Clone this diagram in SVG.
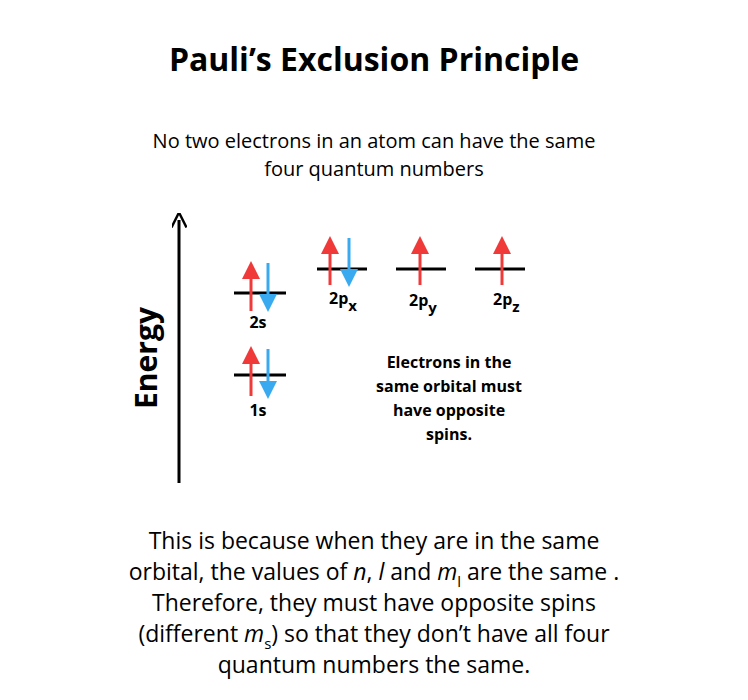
<svg xmlns="http://www.w3.org/2000/svg" width="748" height="700" viewBox="0 0 748 700">
<style>
text{font-family:"Open Sans","Liberation Sans",sans-serif;fill:#000}
.b{font-weight:bold}
.lvl{stroke:#000;stroke-width:3}
.up{stroke:#f03a3a;stroke-width:3}
.dn{stroke:#3aaaf0;stroke-width:3}
</style>
<defs>
<marker id="ru" markerWidth="6" markerHeight="6" refX="3" refY="3" orient="auto" markerUnits="strokeWidth"><path d="M0,0L6,3L0,6z" fill="#f03a3a"/></marker>
<marker id="bd" markerWidth="6" markerHeight="6" refX="3" refY="3" orient="auto" markerUnits="strokeWidth"><path d="M0,0L6,3L0,6z" fill="#3aaaf0"/></marker>
<marker id="ka" markerWidth="5" markerHeight="5" refX="2.5" refY="2.5" orient="auto" markerUnits="strokeWidth"><path d="M0,0L5,2.5L0,5" fill="none" stroke="#000" stroke-width="0.8"/></marker>
</defs>
<rect width="748" height="700" fill="#fff"/>
<text class="b" x="374" y="71" font-size="32" text-anchor="middle">Pauli’s Exclusion Principle</text>
<text x="374" y="148" font-size="20" text-anchor="middle">No two electrons in an atom can have the same</text>
<text x="374" y="176" font-size="20" text-anchor="middle">four quantum numbers</text>
<g id="axis">
<line x1="179" y1="483" x2="179" y2="220" stroke="#000" stroke-width="3" marker-end="url(#ka)"/>
<text class="b" font-size="30" transform="translate(157,358) rotate(-90)" text-anchor="middle">Energy</text>
</g>
<g id="o2s">
<line class="lvl" x1="234" y1="293" x2="286" y2="293"/>
<line class="up" x1="251" y1="311" x2="251" y2="270" marker-end="url(#ru)"/>
<line class="dn" x1="268" y1="263" x2="268" y2="303" marker-end="url(#bd)"/>
<text class="b" x="258" y="328" font-size="16" text-anchor="middle">2s</text>
</g>
<g id="o1s">
<line class="lvl" x1="234" y1="375" x2="286" y2="375"/>
<line class="up" x1="251" y1="396" x2="251" y2="355" marker-end="url(#ru)"/>
<line class="dn" x1="268" y1="349" x2="268" y2="390" marker-end="url(#bd)"/>
<text class="b" x="258" y="416" font-size="16" text-anchor="middle">1s</text>
</g>
<g id="o2px">
<line class="lvl" x1="317" y1="269" x2="367" y2="269"/>
<line class="up" x1="330" y1="285" x2="330" y2="245" marker-end="url(#ru)"/>
<line class="dn" x1="349" y1="238" x2="349" y2="278" marker-end="url(#bd)"/>
<text class="b" x="329" y="304" font-size="16">2p<tspan font-size="15" dy="7">x</tspan></text>
</g>
<g id="o2py">
<line class="lvl" x1="396" y1="269" x2="446" y2="269"/>
<line class="up" x1="420" y1="285" x2="420" y2="245" marker-end="url(#ru)"/>
<text class="b" x="409" y="306" font-size="16">2p<tspan font-size="15" dy="7">y</tspan></text>
</g>
<g id="o2pz">
<line class="lvl" x1="475" y1="269" x2="525" y2="269"/>
<line class="up" x1="502" y1="285" x2="502" y2="245" marker-end="url(#ru)"/>
<text class="b" x="493" y="305" font-size="16">2p<tspan font-size="15" dy="7">z</tspan></text>
</g>
<g id="note" font-size="16" text-anchor="middle">
<text class="b" x="449" y="368">Electrons in the</text>
<text class="b" x="449" y="392">same orbital must</text>
<text class="b" x="449" y="416">have opposite</text>
<text class="b" x="449" y="440">spins.</text>
</g>
<g font-size="23" text-anchor="middle">
<text x="374" y="549">This is because when they are in the same</text>
<text x="374" y="580">orbital, the values of <tspan font-style="italic">n</tspan>, <tspan font-style="italic">l</tspan> and <tspan font-style="italic">m</tspan><tspan font-size="15" dy="7">l</tspan><tspan dy="-7"> are the same .</tspan></text>
<text x="374" y="611">Therefore, they must have opposite spins</text>
<text x="374" y="642">(different <tspan font-style="italic">m</tspan><tspan font-size="15" dy="7">s</tspan><tspan dy="-7">) so that they don’t have all four</tspan></text>
<text x="374" y="673">quantum numbers the same.</text>
</g>
</svg>
